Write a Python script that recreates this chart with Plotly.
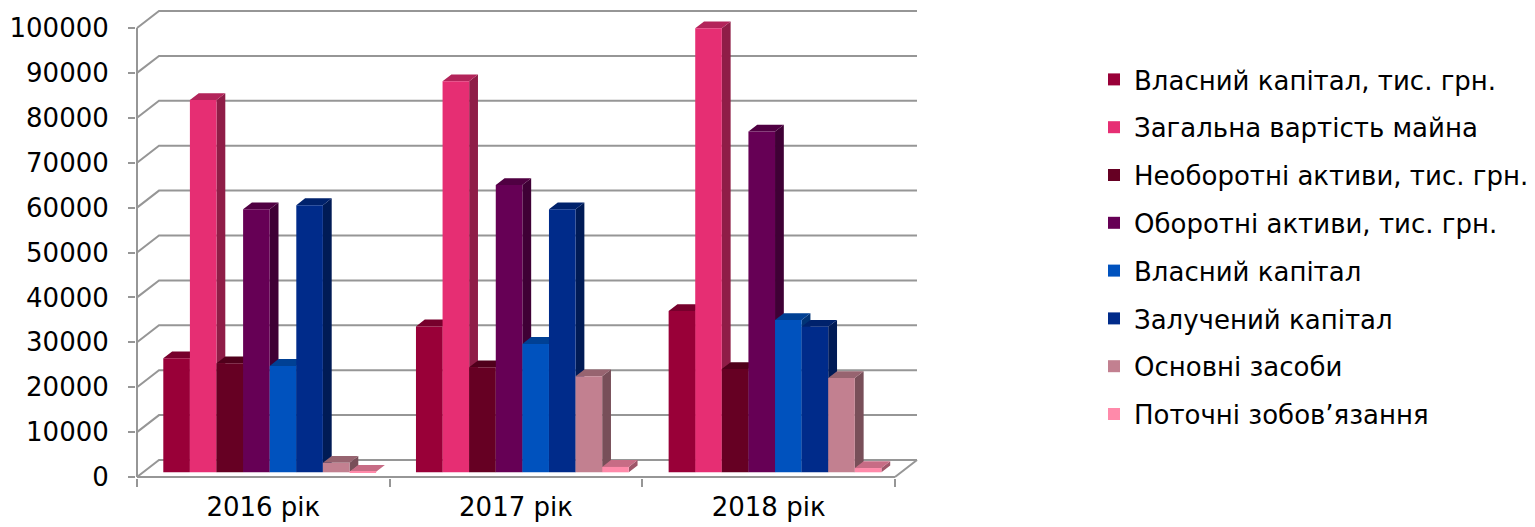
import plotly.graph_objects as go

categories = ["2016 рік", "2017 рік", "2018 рік"]
series_names = [
    "Власний капітал, тис. грн.",
    "Загальна вартість майна",
    "Необоротні активи, тис. грн.",
    "Оборотні активи, тис. грн.",
    "Власний капітал",
    "Залучений капітал",
    "Основні засоби",
    "Поточні зобов’язання",
]
v_own_thousand = [25400, 32500, 35900]
v_total = [82900, 87100, 98900]
v_noncurrent = [24300, 23400, 23000]
v_current = [58600, 64000, 75900]
v_own = [23700, 28600, 33900]
v_borrowed = [59500, 58600, 32400]
v_fixed = [2100, 21400, 21000]
v_liabilities = [100, 1200, 950]
all_values = [v_own_thousand, v_total, v_noncurrent, v_current, v_own, v_borrowed, v_fixed, v_liabilities]
y_ticks = list(range(0, 100001, 10000))
colors = [(153, 0, 56), (230, 46, 115), (102, 0, 35), (102, 0, 85),
          (0, 82, 190), (0, 43, 138), (194, 128, 144), (255, 138, 170)]

W, H = 1535, 527
X0, X1 = 137, 895      # front axis pixel extent
Y0, Y100 = 477, 28
# plot area is larger than the front axes, to hold the back wall and the full axis line width
PLOT_L, PLOT_R, PLOT_T, PLOT_B = 136, 922, 8, 478
PX_X = 3 / (X1 - X0)
PX_Y = 100000 / (Y0 - Y100)
X_RANGE = [(PLOT_L - X0) * PX_X, (PLOT_R - X0) * PX_X]
Y_RANGE = [(Y0 - PLOT_B) * PX_Y, (Y0 - PLOT_T) * PX_Y]
GRID = "#969696"
FONT = "DejaVu Sans"

wall_dx, wall_dy = 22 * PX_X, 17 * PX_Y
bar_w = 26.6 * PX_X
bar_x0 = 26.3 * PX_X
bar_base = 4.7 * PX_Y
bar_dx, bar_dy = 8.8 * PX_X, 6.8 * PX_Y


def shade(c, f):
    return "rgb(%d,%d,%d)" % tuple(round(a * f) for a in c)


fig = go.Figure()

# back wall and side wall gridlines, then the front axis lines
gx, gy = [], []
for t in y_ticks:
    gx += [0, wall_dx, 3 + wall_dx, None]
    gy += [t, t + wall_dy, t + wall_dy, None]
gx += [3, 3 + wall_dx, None, 0, 3, None, 0, 0]
gy += [0, wall_dy, None, 0, 0, None, 0, 100000]
fig.add_trace(go.Scatter(x=gx, y=gy, mode="lines", line=dict(color=GRID, width=2),
                         showlegend=False, hoverinfo="skip", cliponaxis=False))

# side and top faces, painted series by series
for j, vals in enumerate(all_values):
    sx, sy, tx, ty = [], [], [], []
    for k, v in enumerate(vals):
        l = k + bar_x0 + j * bar_w
        r = l + bar_w
        top = bar_base + v
        sx += [r, r + bar_dx, r + bar_dx, r, r, None]
        sy += [bar_base, bar_base + bar_dy, top + bar_dy, top, bar_base, None]
        tx += [l, l + bar_dx, r + bar_dx, r, l, None]
        ty += [top, top + bar_dy, top + bar_dy, top, top, None]
    for xs, ys, f in ((sx, sy, 0.62), (tx, ty, 0.78)):
        fig.add_trace(go.Scatter(x=xs, y=ys, mode="lines", fill="toself", fillcolor=shade(colors[j], f),
                                 line=dict(width=0), showlegend=False, hoverinfo="skip",
                                 legendgroup=f"g{j}"))

# front faces
for j, vals in enumerate(all_values):
    fig.add_trace(go.Bar(
        x=[k + bar_x0 + (j + 0.5) * bar_w for k in range(len(categories))],
        y=vals, base=[bar_base] * len(vals), width=bar_w, name=series_names[j],
        marker=dict(color=shade(colors[j], 1), line=dict(width=0)),
        xaxis="x2", yaxis="y2", legendgroup=f"g{j}",
    ))

plot_w, plot_h = PLOT_R - PLOT_L, PLOT_B - PLOT_T
fig.update_layout(
    width=W, height=H, autosize=False,
    margin=dict(l=PLOT_L, r=W - PLOT_R, t=PLOT_T, b=H - PLOT_B, pad=0, autoexpand=False),
    paper_bgcolor="white", plot_bgcolor="white",
    barmode="overlay", hovermode=False,
    font=dict(family=FONT, size=26, color="black"),
    xaxis=dict(range=X_RANGE, tickmode="array", tickvals=[0.5, 1.5, 2.5], ticktext=categories,
               ticks="", showgrid=False, zeroline=False, showline=False,
               ticklabelstandoff=11, tickfont=dict(size=26),
               minor=dict(tickmode="array", tickvals=[0, 1, 2, 3], ticks="outside", ticklen=8,
                          tickwidth=2, tickcolor=GRID, showgrid=False)),
    yaxis=dict(range=Y_RANGE, tickmode="array", tickvals=y_ticks, ticks="outside", ticklen=7,
               tickwidth=2, tickcolor=GRID, showgrid=False, zeroline=False, showline=False,
               ticklabelstandoff=14, tickfont=dict(size=26), tickformat="d"),
    xaxis2=dict(range=X_RANGE, overlaying="x", anchor="y2", visible=False),
    yaxis2=dict(range=Y_RANGE, overlaying="y", anchor="x2", visible=False),
    legend=dict(xref="paper", yref="paper", x=(1094 - PLOT_L) / plot_w, y=1 - (56 - PLOT_T) / plot_h,
                xanchor="left", yanchor="top", maxheight=480,
                traceorder="grouped", tracegroupgap=11, font=dict(size=26, family=FONT),
                bgcolor="rgba(0,0,0,0)", borderwidth=0, itemclick=False, itemdoubleclick=False),
)

fig.write_html("out.html", config={"displayModeBar": False},
               post_script="document.body.style.margin='0';document.body.style.overflow='hidden';")
